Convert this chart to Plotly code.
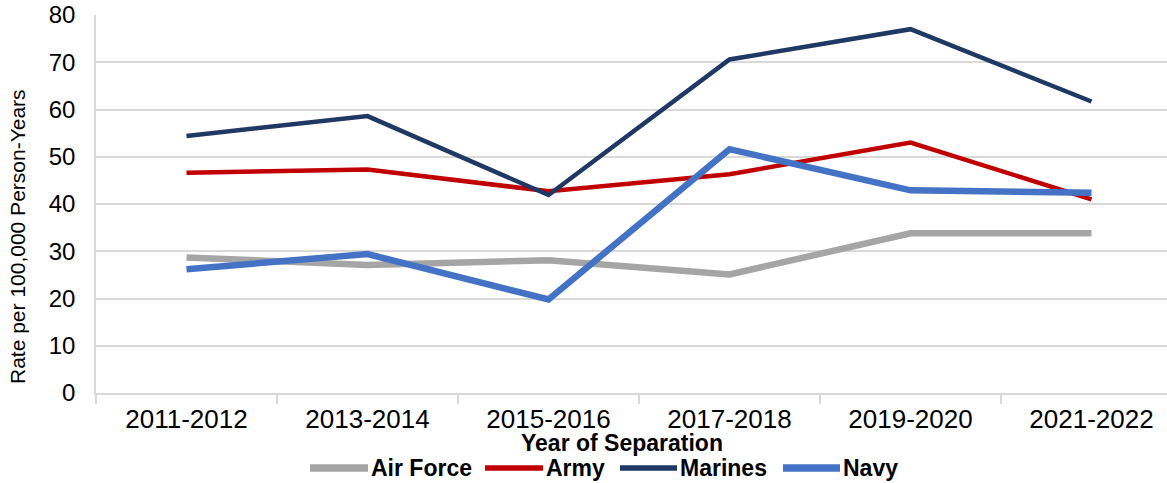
import plotly.graph_objects as go

categories = ["2011-2012", "2013-2014", "2015-2016", "2017-2018", "2019-2020", "2021-2022"]
air_force = [28.7, 27.1, 28.1, 25.1, 33.8, 33.8]
army = [46.6, 47.3, 42.7, 46.3, 53.0, 41.0]
marines = [54.4, 58.6, 41.9, 70.6, 77.0, 61.7]
navy = [26.2, 29.4, 19.8, 51.6, 42.9, 42.4]
y_ticks = [0, 10, 20, 30, 40, 50, 60, 70, 80]
series_names = ["Air Force", "Army", "Marines", "Navy"]

# styles
colors = ["#A5A5A5", "#C00000", "#203864", "#4472C4"]
widths = [6.5, 4.5, 4.5, 6.5]

# figure geometry (page body margin removed in post_script)
W, H = 1167, 483
ML, MR, MT, MB = 96, 0, 15, 90
PW = W - ML - MR
PH = H - MT - MB

def px_x(p):
    return (p - ML) / PW

def px_y(p):
    return (H - MB - p) / PH

fig = go.Figure()
for name, vals, color, w in zip(series_names, [air_force, army, marines, navy], colors, widths):
    fig.add_trace(go.Scatter(x=categories, y=vals, name=name, mode="lines",
                             line=dict(color=color, width=w), showlegend=False))

# manual legend: key line start/end in pixels
legend_keys = [(310, 368), (485, 543), (620, 677), (783, 840)]
legend_y = px_y(468)
shapes = []
annotations = []
for (x0, x1), name, color, w in zip(legend_keys, series_names, colors, widths):
    shapes.append(dict(type="line", xref="paper", yref="paper",
                       x0=px_x(x0), x1=px_x(x1), y0=legend_y, y1=legend_y,
                       line=dict(color=color, width=w + 1)))
    annotations.append(dict(text="<b>" + name + "</b>", xref="paper", yref="paper",
                            x=px_x(x1 + 1), y=legend_y, xanchor="left", yanchor="middle",
                            showarrow=False, font=dict(size=23, color="black")))

annotations.append(dict(text="Rate per 100,000 Person-Years", textangle=-90, xref="paper", yref="paper",
                        x=px_x(17), y=px_y(237), xanchor="center", yanchor="middle", showarrow=False,
                        font=dict(size=21)))
annotations.append(dict(text="<b>Year of Separation</b>", xref="paper", yref="paper",
                        x=px_x(622), y=px_y(443), xanchor="center", yanchor="middle", showarrow=False,
                        font=dict(size=23)))

grid = "#D9D9D9"
fig.update_layout(
    width=W, height=H,
    margin=dict(l=ML, r=MR, t=MT, b=MB, autoexpand=False),
    paper_bgcolor="white", plot_bgcolor="white",
    font=dict(family="Liberation Sans, Arial, sans-serif", color="black"),
    showlegend=False,
    xaxis=dict(type="category", range=[-0.5, 5.417], showgrid=False,
               showline=True, linecolor=grid, linewidth=1.5,
               ticks="outside", tickson="boundaries", ticklen=9, tickcolor=grid, tickwidth=1.5,
               tickfont=dict(size=26), ticklabelstandoff=2, fixedrange=True, automargin=False),
    yaxis=dict(range=[0, 80], tickvals=y_ticks, showgrid=True, gridcolor=grid, gridwidth=1.5,
               showline=True, linecolor=grid, linewidth=1.5, zeroline=False,
               ticks="", tickfont=dict(size=24), ticklabelstandoff=14, automargin=False),
    shapes=shapes,
    annotations=annotations,
)

fig.write_html("out.html", config={"displayModeBar": False},
               post_script="document.body.style.margin='0px';")
